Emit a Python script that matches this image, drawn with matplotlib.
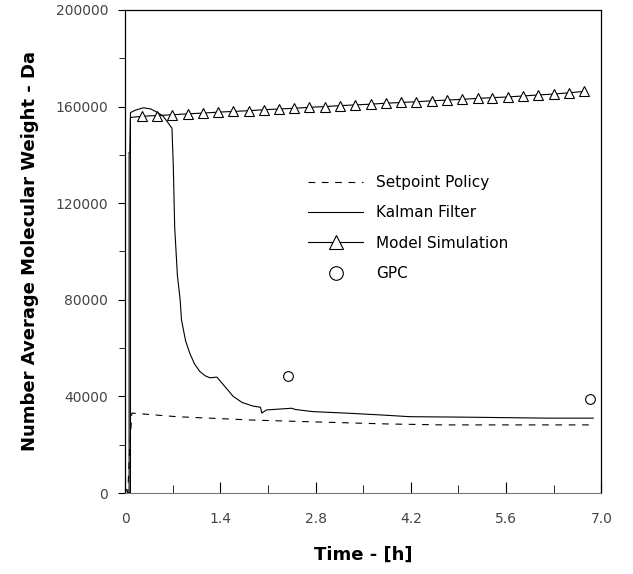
import matplotlib
matplotlib.use("Agg")
import matplotlib.pyplot as plt

# --- data ---
setpoint_t = [0.0, 0.04, 0.07, 0.10, 0.76, 1.88, 2.72, 3.84, 4.67, 6.88]
setpoint_mw = [0, 0, 19000, 33100, 31600, 30200, 29500, 28600, 28200, 28200]

kalman_t = [0.0, 0.06, 0.06, 0.07, 0.08, 0.15, 0.27, 0.38, 0.48, 0.56, 0.64,
            0.69, 0.71, 0.73, 0.77, 0.81, 0.83, 0.89, 0.95, 1.02, 1.10, 1.18,
            1.25, 1.35, 1.47, 1.59, 1.72, 1.88, 1.99, 2.01, 2.08, 2.45, 2.50,
            2.76, 3.31, 3.77, 4.19, 5.02, 6.20, 6.88]
kalman_mw = [0, 0, 141000, 141000, 157500, 158500, 159500, 159000, 157500,
             156000, 153000, 151000, 135000, 110000, 90000, 80000, 71700,
             63000, 58000, 53500, 50300, 48500, 47700, 48000, 44000, 40000,
             37500, 36000, 35500, 33100, 34400, 35100, 34600, 33700, 33000,
             32300, 31600, 31400, 31000, 31000]

model_t = [0.0, 0.08, 0.08,
           0.25, 0.47, 0.69, 0.92, 1.14, 1.37, 1.59, 1.82, 2.04, 2.26,
           2.49, 2.71, 2.94, 3.16, 3.38, 3.61, 3.83, 4.06, 4.28, 4.51,
           4.73, 4.95, 5.18, 5.40, 5.63, 5.85, 6.07, 6.30, 6.52, 6.75]
model_mw = [0, 0, 155500,
            156000, 156300, 156600, 157000, 157300, 157700, 158000, 158300,
            158700, 159000, 159300, 159700, 160000, 160400, 160700, 161000,
            161400, 161700, 162000, 162400, 162700, 163000, 163400, 163700,
            164000, 164400, 164800, 165200, 165700, 166300]

gpc_t = [2.40, 6.83]
gpc_mw = [48500, 38800]

x_ticks = [0, 1.4, 2.8, 4.2, 5.6, 7.0]
x_ticklabels = ["0", "1.4", "2.8", "4.2", "5.6", "7.0"]
y_ticks = [0, 40000, 80000, 120000, 160000, 200000]

fig = plt.figure(figsize=(6.33, 5.74), dpi=100)
ax = fig.add_axes([0.1975, 0.1411, 0.7525, 0.8415])

ax.plot(setpoint_t, setpoint_mw, c="black", lw=0.8, dashes=(6, 6),
        label="Setpoint Policy")
ax.plot(kalman_t, kalman_mw, c="black", lw=0.8, label="Kalman Filter")
ax.plot(model_t, model_mw, c="black", lw=0.8, marker="^", ms=7,
        mfc="white", mec="black", mew=0.8,
        markevery=[0] + list(range(3, len(model_t))), label="Model Simulation")
ax.plot(gpc_t, gpc_mw, ls="none", marker="o", ms=7, mfc="none",
        mec="black", mew=0.8, label="GPC")

ax.set_xlim(0, 7.0)
ax.set_ylim(0, 200000)
ax.set_xticks(x_ticks)
ax.set_xticklabels(x_ticklabels)
ax.set_xticks([0.7, 2.1, 3.5, 4.9, 6.3], minor=True)
ax.set_yticks(y_ticks)
ax.set_yticklabels([str(v) for v in y_ticks])
ax.set_yticks([20000, 60000, 100000, 140000, 180000], minor=True)

ax.tick_params(axis="x", which="both", direction="in", pad=14,
               labelsize=10, labelcolor="#444444")
ax.tick_params(axis="x", which="major", length=8)
ax.tick_params(axis="x", which="minor", length=6)
ax.tick_params(axis="y", which="both", direction="out", pad=7,
               labelsize=10, labelcolor="#444444")
ax.tick_params(axis="y", which="major", length=5)
ax.tick_params(axis="y", which="minor", length=4)

for side in ["left", "right", "top"]:
    ax.spines[side].set_linewidth(0.9)
ax.spines["bottom"].set_color("#777777")
ax.spines["bottom"].set_linewidth(0.8)

ax.set_xlabel("Time - [h]", fontsize=13, fontweight="bold", labelpad=14)
ax.set_ylabel("Number Average Molecular Weight - Da", fontsize=13,
              fontweight="bold", labelpad=12)

ax.legend(loc="upper left", bbox_to_anchor=(0.385, 0.658), frameon=False,
          fontsize=11, handlelength=3.6, labelspacing=1.0, markerscale=1.4,
          borderpad=0, borderaxespad=0, handletextpad=0.8)

plt.savefig("out.png", dpi=100)
